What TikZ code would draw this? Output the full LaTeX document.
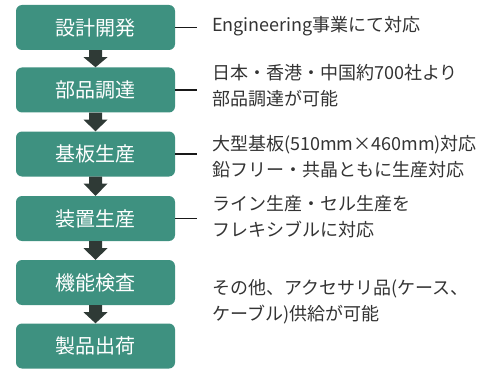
\documentclass[tikz,border=0pt]{standalone}
\usepackage{fontspec}
\setmainfont{Noto Sans CJK JP}
\usetikzlibrary{calc}
\definecolor{boxgreen}{HTML}{3E9180}
\definecolor{arrowdark}{HTML}{2F3A36}
\definecolor{txtgray}{HTML}{333333}
\tikzset{
  stepbox/.style={fill=boxgreen, rounded corners=6pt, minimum width=159pt, minimum height=45pt,
    inner sep=0pt, text=white, font=\fontsize{20}{20}\selectfont},
  desc/.style={anchor=west, align=left, inner sep=0pt, text=txtgray,
    font=\fontsize{18}{26}\selectfont},
  tick/.style={draw=black!90, line width=1.8pt},
}
\newcommand{\blockarrow}[2]{%
  \fill[arrowdark] ($(#1.south)+(-6.5,0)$) -- ($(#1.south)+(6.5,0)$) -- ($(#1.south)+(6.5,7)$)
    -- ($(#1.south)+(12,7)$) -- (#2.north) -- ($(#1.south)+(-12,7)$)
    -- ($(#1.south)+(-6.5,7)$) -- cycle;}
\begin{document}
\begin{tikzpicture}[x=1pt,y=-1pt]
\useasboundingbox (0,0) rectangle (485,369);
\node[stepbox] (b1) at (95.5,27.5) {設計開発};
\node[stepbox] (b2) at (95.5,90) {部品調達};
\node[stepbox] (b3) at (95.5,154) {基板生産};
\node[stepbox] (b4) at (95.5,218.5) {装置生産};
\node[stepbox] (b5) at (95.5,282.5) {機能検査};
\node[stepbox] (b6) at (95.5,346) {製品出荷};
\blockarrow{b1}{b2}
\blockarrow{b2}{b3}
\blockarrow{b3}{b4}
\blockarrow{b4}{b5}
\blockarrow{b5}{b6}
\node[desc] (t1) at (212,26) {Engineering事業にて対応};
\node[desc] (t2) at (212,86) {日本・香港・中国約700社より\\部品調達が可能};
\node[desc] (t3) at (212,157) {大型基板(510mm×460mm)対応\\鉛フリー・共晶ともに生産対応};
\node[desc] (t4) at (212,217) {ライン生産・セル生産を\\フレキシブルに対応};
\node[desc] (t5) at (212,302) {その他、アクセサリ品(ケース、\\ケーブル)供給が可能};
\draw[tick] (b1.east) -- ++(22,0);
\draw[tick] (b2.east) -- ++(22,0);
\draw[tick] (b3.east) -- ++(22,0);
\draw[tick] (b4.east) -- ++(22,0);
\end{tikzpicture}
\end{document}
